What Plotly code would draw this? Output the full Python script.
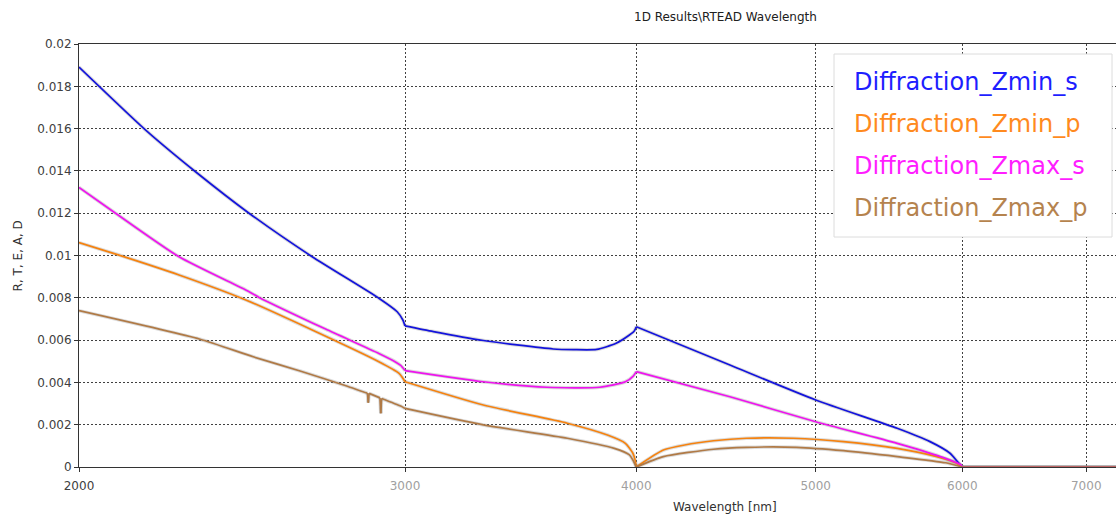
import math
import plotly.graph_objects as go

# ---------------- data ----------------
series_names = ["Diffraction_Zmin_s", "Diffraction_Zmin_p", "Diffraction_Zmax_s", "Diffraction_Zmax_p"]

zmin_s_wl = [2000, 2173, 2312, 2471, 2673, 2904, 2971, 2992, 3000, 3108, 3307, 3448, 3607, 3700, 3808,
             3901, 3966, 3990, 4000, 4494, 5000, 5533, 5764, 5909, 5975, 6000, 7300]
zmin_s_val = [0.01891, 0.01593, 0.01396, 0.01200, 0.00994, 0.00798, 0.00734, 0.00695, 0.00667, 0.00640,
              0.00598, 0.00577, 0.00558, 0.00555, 0.00556, 0.00585, 0.00624, 0.00643, 0.00663, 0.00482,
              0.00317, 0.00183, 0.00120, 0.00065, 0.00017, 0.0, 0.0]

zmin_p_wl = [2000, 2102, 2265, 2461, 2673, 2904, 2978, 2992, 3000, 3307, 3671, 3859, 3946, 3983, 3995,
             4000, 4137, 4248, 4403, 4588, 4863, 5175, 5533, 5812, 5950, 6000, 7300]
zmin_p_val = [0.01061, 0.01002, 0.00908, 0.00790, 0.00648, 0.00498, 0.00443, 0.00420, 0.00403, 0.00293,
              0.00207, 0.00151, 0.00112, 0.00065, 0.00030, 0.0, 0.00080, 0.00104, 0.00124, 0.00136,
              0.00136, 0.00120, 0.00088, 0.00049, 0.00020, 0.0, 0.0]

zmax_s_wl = [2000, 2093, 2265, 2461, 2502, 2718, 2904, 2963, 2984, 3000, 3307, 3579, 3822, 3946, 3985,
             4000, 4494, 5000, 5533, 5839, 5990, 6000, 7300]
zmax_s_val = [0.01322, 0.01200, 0.00994, 0.00837, 0.00802, 0.00652, 0.00537, 0.00498, 0.00480, 0.00456,
              0.00403, 0.00377, 0.00377, 0.00403, 0.00430, 0.00451, 0.00332, 0.00214, 0.00112, 0.00049,
              0.00010, 0.0, 0.0]

zmax_p_wl = [2000, 2325, 2484, 2633, 2790, 2858, 2863, 2866, 2869, 2908, 2911, 2914, 2984, 3000, 3307,
             3671, 3892, 3966, 3983, 4000, 4137, 4403, 4588, 4883, 5175, 5533, 5878, 6000, 7300]
zmax_p_val = [0.00739, 0.00604, 0.00521, 0.00454, 0.00383, 0.00351, 0.00350, 0.00304, 0.00348, 0.00327,
              0.00254, 0.00324, 0.00288, 0.00277, 0.00199, 0.00136, 0.00088, 0.00057, 0.00033, 0.0,
              0.00049, 0.00084, 0.00093, 0.00093, 0.00077, 0.00049, 0.00020, 0.0, 0.0]

# wavelengths where a curve has a sharp corner (curves are smooth between them)
common_breaks = [3000, 4000, 6000]
zmax_p_spikes = [2863, 2866, 2869, 2908, 2911, 2914]

line_colors = ["#1414dc", "#f5820f", "#ee14ee", "#b07a46"]
legend_colors = ["#1e1eff", "#ff8a1e", "#ff1eff", "#b5834e"]

x_tick_vals = [2000, 3000, 4000, 5000, 6000, 7000]
x_tick_text = ['<span style="color:#404040">2000</span>', "3000", "4000", "5000", "6000", "7000"]
y_tick_vals = [0, 0.002, 0.004, 0.006, 0.008, 0.01, 0.012, 0.014, 0.016, 0.018, 0.02]
y_tick_text = ["0", "0.002", "0.004", "0.006", "0.008", "0.01", "0.012", "0.014", "0.016", "0.018", "0.02"]

title_text = "1D Results\\RTEAD Wavelength"
x_title = "Wavelength [nm]"
y_title = "R, T, E, A, D"

# ---------------- figure ----------------
W, H = 1116, 518
L, R, T, B = 79, 0, 44, 51
pw, ph = W - L - R, H - T - B

def px_x(p):
    return (p - L) / pw

def px_y(p):
    return (H - B - p) / ph

def split_segments(xv, yv, breaks):
    """Split a series at break wavelengths; segments share the break point, separated by None."""
    ox, oy = [], []
    for i, (a, b) in enumerate(zip(xv, yv)):
        ox.append(a)
        oy.append(b)
        if a in breaks and 0 < i < len(xv) - 1:
            ox.extend([None, a])
            oy.extend([None, b])
    return ox, oy

xs = [zmin_s_wl, zmin_p_wl, zmax_s_wl, zmax_p_wl]
ys = [zmin_s_val, zmin_p_val, zmax_s_val, zmax_p_val]
brks = [common_breaks, common_breaks, common_breaks, common_breaks + zmax_p_spikes]

segs = [split_segments(xv, yv, bk) for xv, yv, bk in zip(xs, ys, brks)]

fig = go.Figure()
for sx, sy in segs:
    fig.add_trace(go.Scatter(x=sx, y=sy, mode="lines", hoverinfo="skip", connectgaps=False,
                             line=dict(color="rgba(140,140,140,0.30)", width=3.6,
                                       shape="spline", smoothing=0.6),
                             showlegend=False))
for name, (sx, sy), c in zip(series_names, segs, line_colors):
    fig.add_trace(go.Scatter(x=sx, y=sy, mode="lines", name=name, connectgaps=False,
                             line=dict(color=c, width=1.7, shape="spline", smoothing=0.6),
                             showlegend=False))

font_family = "DejaVu Sans"
fig.update_layout(
    width=W, height=H,
    margin=dict(l=L, r=R, t=T, b=B),
    paper_bgcolor="white", plot_bgcolor="white",
    font=dict(family=font_family, size=12, color="#404040"),
    showlegend=False,
    xaxis=dict(type="log", range=[math.log10(2000), math.log10(7264)],
               tickvals=x_tick_vals, ticktext=x_tick_text,
               tickfont=dict(family=font_family, size=12, color="#a0a0a0"),
               ticklabelstandoff=4,
               showgrid=True, gridcolor="#404040", griddash="2px,2px", gridwidth=1,
               showline=True, linecolor="#333333", linewidth=1, mirror=True,
               ticks="outside", ticklen=4, tickcolor="#333333", zeroline=False),
    yaxis=dict(range=[0, 0.02], tickvals=y_tick_vals, ticktext=y_tick_text,
               tickfont=dict(family=font_family, size=12, color="#404040"),
               showgrid=True, gridcolor="#404040", griddash="2px,2px", gridwidth=1,
               showline=True, linecolor="#333333", linewidth=1,
               ticks="outside", ticklen=4, tickcolor="#333333", zeroline=False),
)

annotations = [
    dict(text=title_text, x=px_x(725), y=px_y(17), xref="paper", yref="paper",
         xanchor="center", yanchor="middle", showarrow=False,
         font=dict(family=font_family, size=12, color="#202020")),
    dict(text=x_title, x=px_x(725), y=px_y(507), xref="paper", yref="paper",
         xanchor="center", yanchor="middle", showarrow=False,
         font=dict(family=font_family, size=12, color="#303030")),
    dict(text=y_title, x=px_x(17.5), y=px_y(256), xref="paper", yref="paper",
         xanchor="center", yanchor="middle", showarrow=False, textangle=-90,
         font=dict(family=font_family, size=12, color="#303030")),
]
legend_y = [82, 124, 166, 208]
for name, c, yy in zip(series_names, legend_colors, legend_y):
    annotations.append(dict(text=name, x=px_x(852), y=px_y(yy), xref="paper", yref="paper",
                            xanchor="left", yanchor="middle", showarrow=False,
                            font=dict(family=font_family, size=24, color=c)))
fig.update_layout(annotations=annotations)

fig.add_shape(type="rect", xref="paper", yref="paper",
              x0=px_x(834), x1=px_x(1112), y0=px_y(237), y1=px_y(54),
              fillcolor="white", line=dict(color="#dcdcdc", width=1), layer="above")

fig.write_html("out.html")
